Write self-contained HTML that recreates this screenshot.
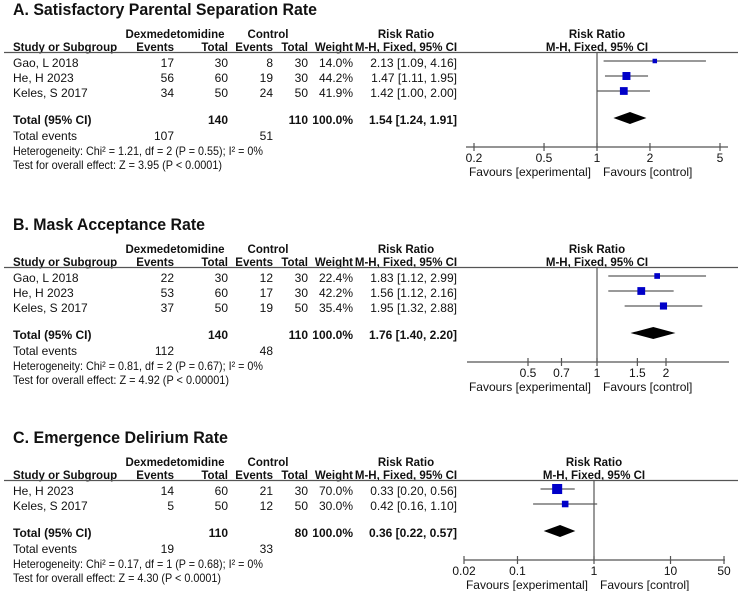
<!DOCTYPE html>
<html><head><meta charset="utf-8">
<style>
html,body{margin:0;padding:0;background:#fff;}
svg text{font-family:"Liberation Sans",Arial,sans-serif;fill:#111;}
</style></head>
<body>
<svg id="fig" xmlns="http://www.w3.org/2000/svg" width="740" height="591" viewBox="0 0 740 591"></svg>
<script>
// Panel A data
const studiesA = ["Gao, L 2018","He, H 2023","Keles, S 2017"];
const expEvA = [17,56,34], expTotA = [30,60,50], ctlEvA = [8,19,24], ctlTotA = [30,30,50];
const weightA = [14.0,44.2,41.9];
const rrA = [2.13,1.47,1.42], loA = [1.09,1.11,1.00], hiA = [4.16,1.95,2.00];
const totalA = [1.54,1.24,1.91];
const ticksA = [0.2,0.5,1,2,5];
// Panel B data
const studiesB = ["Gao, L 2018","He, H 2023","Keles, S 2017"];
const expEvB = [22,53,37], expTotB = [30,60,50], ctlEvB = [12,17,19], ctlTotB = [30,30,50];
const weightB = [22.4,42.2,35.4];
const rrB = [1.83,1.56,1.95], loB = [1.12,1.12,1.32], hiB = [2.99,2.16,2.88];
const totalB = [1.76,1.40,2.20];
const ticksB = [0.5,0.7,1,1.5,2];
// Panel C data
const studiesC = ["He, H 2023","Keles, S 2017"];
const expEvC = [14,5], expTotC = [60,50], ctlEvC = [21,12], ctlTotC = [30,50];
const weightC = [70.0,30.0];
const rrC = [0.33,0.42], loC = [0.20,0.16], hiC = [0.56,1.10];
const totalC = [0.36,0.22,0.57];
const ticksC = [0.02,0.1,1,10,50];

const NS="http://www.w3.org/2000/svg";
const svg=document.getElementById('fig');
function mk(tag,attrs,parent){const e=document.createElementNS(NS,tag);for(const k in attrs)e.setAttribute(k,attrs[k]);(parent||svg).appendChild(e);return e;}
function txt(s,x,y,opt,parent){opt=opt||{};const t=mk('text',{x:x,y:y,'font-size':opt.size||12,'text-anchor':opt.anchor||'start','font-weight':opt.bold?'bold':'normal'},parent);if(opt.len){t.setAttribute('textLength',opt.len);t.setAttribute('lengthAdjust','spacingAndGlyphs');}t.textContent=s;return t;}
function f2(v){return v.toFixed(2);}

function panel(cfg){
  const g=mk('g',{});
  
  
  const L=cfg.L;
  const t=txt(cfg.title,13,L-37,{size:17,bold:true,len:cfg.titleLen},g);
  
  
  // headers
  txt("Dexmedetomidine",175,L-14,{anchor:'middle',bold:true,size:11.5},g);
  txt("Control",268,L-14,{anchor:'middle',bold:true,size:11.5},g);
  txt("Risk Ratio",406,L-14,{anchor:'middle',bold:true,size:11.5},g);
  txt("Risk Ratio",cfg.v,L-14,{anchor:'middle',bold:true,size:11.5},g);
  txt("Study or Subgroup",13,L-1,{bold:true,size:11.5},g);
  txt("Events",174,L-1,{anchor:'end',bold:true,size:11.5},g);
  txt("Total",228,L-1,{anchor:'end',bold:true,size:11.5},g);
  txt("Events",273,L-1,{anchor:'end',bold:true,size:11.5},g);
  txt("Total",308,L-1,{anchor:'end',bold:true,size:11.5},g);
  txt("Weight",353,L-1,{anchor:'end',bold:true,size:11.5},g);
  txt("M-H, Fixed, 95% CI",406,L-1,{anchor:'middle',bold:true,size:11.5},g);
  txt("M-H, Fixed, 95% CI",cfg.v,L-1,{anchor:'middle',bold:true,size:11.5},g);
  const hl=mk('line',{x1:4,y1:L+0.5,x2:738,y2:L+0.5,stroke:'#555','stroke-width':1.2},g);
  
  
  // scale
  const lmin=Math.log10(cfg.ticks[0]),lmax=Math.log10(cfg.ticks[cfg.ticks.length-1]);
  const sx=v=>cfg.x0+(Math.log10(v)-lmin)/(lmax-lmin)*(cfg.x1-cfg.x0);
  const n=cfg.studies.length;
  const totY=L+11+15*n+12;
  const axY=totY+27;
  // rows
  for(let i=0;i<n;i++){
    const y=L+11+15*i;
    txt(cfg.studies[i],13,y+4,{},g);
    txt(String(cfg.ee[i]),174,y+4,{anchor:'end'},g);
    txt(String(cfg.et[i]),228,y+4,{anchor:'end'},g);
    txt(String(cfg.ce[i]),273,y+4,{anchor:'end'},g);
    txt(String(cfg.ct[i]),308,y+4,{anchor:'end'},g);
    txt(cfg.w[i].toFixed(1)+"%",353,y+4,{anchor:'end'},g);
    txt(f2(cfg.rr[i])+" ["+f2(cfg.lo[i])+", "+f2(cfg.hi[i])+"]",457,y+4,{anchor:'end'},g);
    const my=y-2;
    const ci=mk('line',{x1:sx(cfg.lo[i]),y1:my,x2:sx(cfg.hi[i]),y2:my,stroke:'#333','stroke-width':1},g);
    
    
    const s=12*Math.sqrt(cfg.w[i]/100);
    const sq=mk('rect',{x:sx(cfg.rr[i])-s/2,y:my-s/2,width:s,height:s,fill:'#0000c8'},g);
    
    
  }
  // total
  txt("Total (95% CI)",13,totY+4,{bold:true},g);
  txt(String(cfg.totE),228,totY+4,{anchor:'end',bold:true},g);
  txt(String(cfg.totC),308,totY+4,{anchor:'end',bold:true},g);
  txt("100.0%",353,totY+4,{anchor:'end',bold:true},g);
  txt(f2(cfg.tot[0])+" ["+f2(cfg.tot[1])+", "+f2(cfg.tot[2])+"]",457,totY+4,{anchor:'end',bold:true},g);
  const dy=totY-2;
  const dm=mk('polygon',{points:`${sx(cfg.tot[1])},${dy} ${sx(cfg.tot[0])},${dy-6} ${sx(cfg.tot[2])},${dy} ${sx(cfg.tot[0])},${dy+6}`,fill:'#000'},g);
  
  
  txt("Total events",13,totY+20,{},g);
  txt(String(cfg.evE),174,totY+20,{anchor:'end'},g);
  txt(String(cfg.evC),273,totY+20,{anchor:'end'},g);
  txt(cfg.het,13,totY+35,{len:250},g);
  txt(cfg.test,13,totY+49,{len:cfg.testLen},g);
  // plot lines
  const vl=mk('line',{x1:cfg.v,y1:L,x2:cfg.v,y2:axY,stroke:'#555','stroke-width':1.2},g);
  
  
  const ax=mk('line',{x1:cfg.ax0,y1:axY,x2:cfg.ax1,y2:axY,stroke:'#555','stroke-width':1.2},g);
  
  
  cfg.ticks.forEach(tv=>{
    const x=sx(tv);
    const tk=mk('line',{x1:x,y1:axY-4,x2:x,y2:axY+4,stroke:'#555','stroke-width':1.2},g);
    
    
    txt(String(tv),x,axY+15,{anchor:'middle'},g);
  });
  txt("Favours [experimental]",cfg.v-6,axY+29,{anchor:'end'},g);
  txt("Favours [control]",cfg.v+6,axY+29,{},g);
}

panel({name:'panel-a-parental-separation',L:52,title:"A. Satisfactory Parental Separation Rate",titleLen:304,
  studies:studiesA,ee:expEvA,et:expTotA,ce:ctlEvA,ct:ctlTotA,w:weightA,rr:rrA,lo:loA,hi:hiA,tot:totalA,
  totE:140,totC:110,evE:107,evC:51,
  het:"Heterogeneity: Chi² = 1.21, df = 2 (P = 0.55); I² = 0%",test:"Test for overall effect: Z = 3.95 (P < 0.0001)",testLen:209,
  ticks:ticksA,x0:474,x1:720,v:597,ax0:466,ax1:728});
panel({name:'panel-b-mask-acceptance',L:267,title:"B. Mask Acceptance Rate",titleLen:192,
  studies:studiesB,ee:expEvB,et:expTotB,ce:ctlEvB,ct:ctlTotB,w:weightB,rr:rrB,lo:loB,hi:hiB,tot:totalB,
  totE:140,totC:110,evE:112,evC:48,
  het:"Heterogeneity: Chi² = 0.81, df = 2 (P = 0.67); I² = 0%",test:"Test for overall effect: Z = 4.92 (P < 0.00001)",testLen:216,
  ticks:ticksB,x0:528,x1:666,v:597,ax0:467,ax1:729});
panel({name:'panel-c-emergence-delirium',L:480,title:"C. Emergence Delirium Rate",titleLen:215,
  studies:studiesC,ee:expEvC,et:expTotC,ce:ctlEvC,ct:ctlTotC,w:weightC,rr:rrC,lo:loC,hi:hiC,tot:totalC,
  totE:110,totC:80,evE:19,evC:33,
  het:"Heterogeneity: Chi² = 0.17, df = 1 (P = 0.68); I² = 0%",test:"Test for overall effect: Z = 4.30 (P < 0.0001)",testLen:208,
  ticks:ticksC,x0:464,x1:724,v:594,ax0:464,ax1:725});
</script>
</body></html>
